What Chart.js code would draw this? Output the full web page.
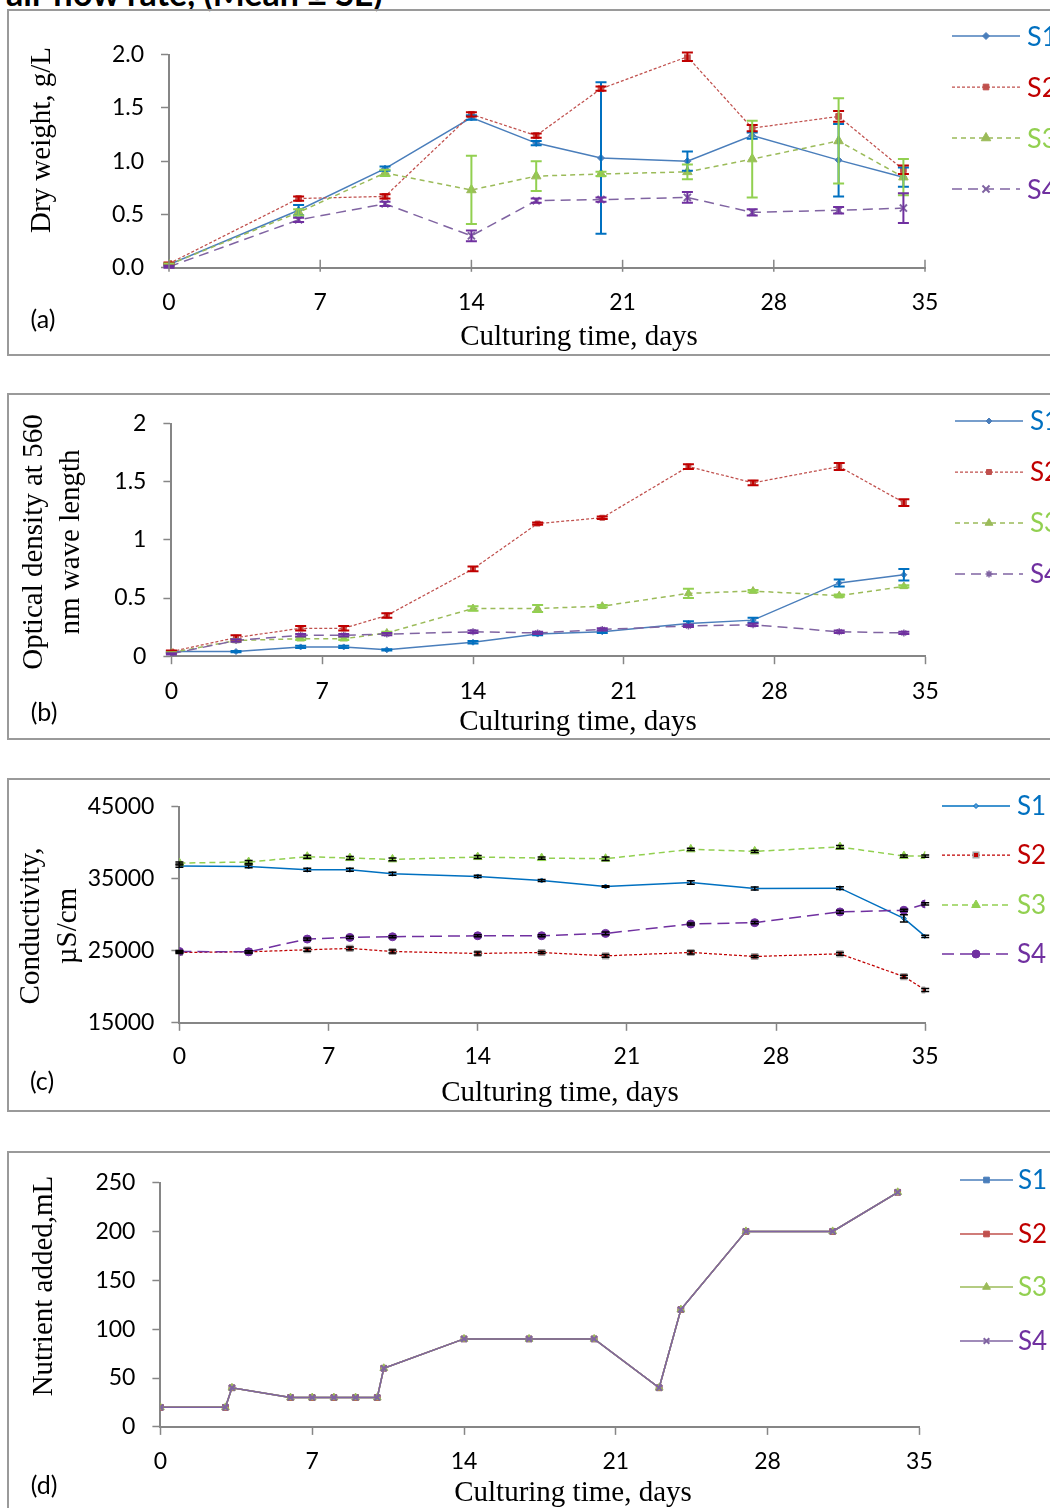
<!DOCTYPE html>
<html>
<head>
<meta charset="utf-8">
<title>Culture growth panels</title>
<script src="https://cdn.jsdelivr.net/npm/chart.js@4.4.0/dist/chart.umd.min.js"></script>
<style>
  html, body { margin: 0; padding: 0; background: #fff; }
  body { width: 1050px; height: 1508px; overflow: hidden; position: relative; }
  .panel { position: absolute; left: 7px; width: 1100px; border: 2px solid #9a9a9a; box-sizing: border-box; }
  canvas { position: absolute; left: 0; }
  .t { position: absolute; white-space: nowrap; transform: translate(-50%, -50%); }
  .serif { font-family: "Liberation Serif", serif; font-size: 29px; line-height: 1; color: #000; }
  .rot { transform: translate(-50%, -50%) rotate(-90deg); }
  .tag { font-family: Lato, sans-serif; font-size: 25px; line-height: 1.2; color: #000; }
  .head { position: absolute; left: 6px; top: -21px; font: bold 34px Lato, sans-serif; line-height: 27px; white-space: nowrap; color: #000; }
</style>
</head>
<body>
<div class="head">air flow rate, (Mean ± SE)</div>

<div class="panel" style="top:9px;height:347px"></div>
<div class="panel" style="top:393px;height:347px"></div>
<div class="panel" style="top:778px;height:334px"></div>
<div class="panel" style="top:1151px;height:400px"></div>

<canvas id="chartA" width="1050" height="356" style="top:0px;width:1050px;height:356px"></canvas>
<canvas id="chartB" width="1050" height="380" style="top:380px;width:1050px;height:380px"></canvas>
<canvas id="chartC" width="1050" height="350" style="top:770px;width:1050px;height:350px"></canvas>
<canvas id="chartD" width="1050" height="368" style="top:1140px;width:1050px;height:368px"></canvas>

<div class="t serif rot" style="left:40px;top:140px">Dry weight, g/L</div>
<div class="t serif" style="left:579px;top:335px">Culturing time, days</div>
<div class="t tag" style="left:43px;top:318px">(a)</div>

<div class="t serif rot" style="left:32px;top:542px">Optical density at 560</div>
<div class="t serif rot" style="left:69px;top:542px">nm wave length</div>
<div class="t serif" style="left:578px;top:720px">Culturing time, days</div>
<div class="t tag" style="left:44px;top:711px">(b)</div>

<div class="t serif rot" style="left:29px;top:926px">Conductivity,</div>
<div class="t serif rot" style="left:66px;top:926px">µS/cm</div>
<div class="t serif" style="left:560px;top:1091px">Culturing time, days</div>
<div class="t tag" style="left:42px;top:1080px">(c)</div>

<div class="t serif rot" style="left:42px;top:1286px">Nutrient added,mL</div>
<div class="t serif" style="left:573px;top:1491px">Culturing time, days</div>
<div class="t tag" style="left:44px;top:1484px">(d)</div>

<script>
// ---- (a) dry weight, g/L ----
const dwDays = [0, 6, 10, 14, 17, 20, 24, 27, 31, 34];
const dwS1 = [0.03, 0.54, 0.93, 1.41, 1.17, 1.03, 1.00, 1.24, 1.01, 0.85];
const dwS2 = [0.04, 0.65, 0.67, 1.44, 1.24, 1.68, 1.98, 1.31, 1.42, 0.92];
const dwS3 = [0.03, 0.52, 0.89, 0.73, 0.86, 0.88, 0.90, 1.02, 1.19, 0.85];
const dwS4 = [0.01, 0.45, 0.60, 0.30, 0.63, 0.64, 0.66, 0.52, 0.54, 0.56];
const dwS1Err = [0.01, 0.05, 0.02, 0.02, 0.02, 0.71, 0.09, 0.03, 0.34, 0.09];
const dwS2Err = [0.01, 0.02, 0.02, 0.02, 0.02, 0.02, 0.04, 0.03, 0.05, 0.04];
const dwS3Err = [0.01, 0.03, 0.03, 0.32, 0.14, 0.02, 0.07, 0.36, 0.40, 0.17];
const dwS4Err = [0.01, 0.02, 0.02, 0.05, 0.02, 0.02, 0.05, 0.03, 0.03, 0.14];

// ---- (b) optical density at 560 nm ----
const odDays = [0, 3, 6, 8, 10, 14, 17, 20, 24, 27, 31, 34];
const odS1 = [0.04, 0.04, 0.08, 0.08, 0.055, 0.12, 0.19, 0.21, 0.28, 0.31, 0.63, 0.70];
const odS2 = [0.04, 0.16, 0.24, 0.24, 0.35, 0.75, 1.14, 1.19, 1.63, 1.49, 1.63, 1.32];
const odS3 = [0.03, 0.135, 0.15, 0.15, 0.20, 0.41, 0.41, 0.43, 0.54, 0.56, 0.52, 0.60];
const odS4 = [0.02, 0.135, 0.18, 0.18, 0.19, 0.21, 0.20, 0.23, 0.26, 0.27, 0.21, 0.20];
const odS1Err = [0.005, 0.005, 0.01, 0.01, 0.005, 0.01, 0.01, 0.01, 0.02, 0.02, 0.03, 0.05];
const odS2Err = [0.01, 0.02, 0.02, 0.02, 0.02, 0.02, 0.01, 0.01, 0.02, 0.02, 0.03, 0.03];
const odS3Err = [0.005, 0.01, 0.01, 0.01, 0.01, 0.02, 0.03, 0.01, 0.04, 0.01, 0.01, 0.01];
const odS4Err = [0.005, 0.01, 0.01, 0.01, 0.01, 0.01, 0.01, 0.01, 0.01, 0.01, 0.01, 0.01];

// ---- (c) conductivity, uS/cm ----
const ecDays = [0, 3.25, 6, 8, 10, 14, 17, 20, 24, 27, 31, 34, 35];
const ecS1 = [36770, 36720, 36250, 36250, 35700, 35330, 34770, 33930, 34490, 33650, 33700, 29510, 27000];
const ecS2 = [24770, 24860, 25140, 25330, 24900, 24630, 24770, 24300, 24770, 24210, 24580, 21420, 19560];
const ecS3 = [37190, 37330, 38070, 37880, 37700, 38020, 37880, 37790, 39090, 38810, 39420, 38160, 38160];
const ecS4 = [24900, 24860, 26630, 26860, 26950, 27090, 27090, 27420, 28720, 28910, 30400, 30630, 31510];
const ecS1Err = [150, 200, 200, 200, 200, 150, 150, 100, 250, 200, 200, 500, 150];
const ecS2Err = [150, 150, 200, 200, 200, 200, 150, 200, 200, 150, 200, 200, 200];
const ecS3Err = [150, 200, 200, 200, 200, 200, 150, 250, 150, 150, 200, 150, 150];
const ecS4Err = [150, 150, 150, 150, 150, 150, 150, 200, 150, 150, 200, 150, 150];

// ---- (d) nutrient added, mL (same schedule for all four) ----
const ntDays = [0, 3, 3.3, 6, 7, 8, 9, 10, 10.3, 14, 17, 20, 23, 24, 27, 31, 34];
const ntAdded = [20, 20, 40, 30, 30, 30, 30, 30, 60, 90, 90, 90, 40, 120, 200, 200, 240];

const seriesNames = ['S1', 'S2', 'S3', 'S4'];
const legendColors = ['#0070C0', '#C00000', '#92D050', '#7030A0'];

const AXIS = '#868686';
Chart.defaults.font.family = 'Lato';
Chart.defaults.color = '#000';

// vertical error bars from each dataset's `errors`
const errorBars = {
  id: 'errorBars',
  afterDatasetsDraw(chart, args, o) {
    const { ctx, scales: { x, y } } = chart;
    chart.data.datasets.forEach(ds => {
      if (!ds.errors) return;
      ctx.save();
      ctx.strokeStyle = ds.errorColor || ds.borderColor;
      ctx.lineWidth = o.width || 1.5;
      ctx.setLineDash([]);
      const cap = o.cap || 5;
      ds.data.forEach((p, j) => {
        const e = ds.errors[j];
        if (!e) return;
        const px = x.getPixelForValue(p.x);
        const lo = y.getPixelForValue(p.y - e), hi = y.getPixelForValue(p.y + e);
        ctx.beginPath();
        ctx.moveTo(px, lo); ctx.lineTo(px, hi);
        ctx.moveTo(px - cap, lo); ctx.lineTo(px + cap, lo);
        ctx.moveTo(px - cap, hi); ctx.lineTo(px + cap, hi);
        ctx.stroke();
      });
      ctx.restore();
    });
  }
};

// legend on the right: line sample with marker, then coloured name
const sideLegend = {
  id: 'sideLegend',
  afterDraw(chart, args, o) {
    if (!o.ys) return;
    const ctx = chart.ctx;
    chart.data.datasets.forEach((ds, i) => {
      const y = o.ys[i];
      ctx.save();
      ctx.strokeStyle = ds.borderColor;
      ctx.lineWidth = ds.borderWidth;
      ctx.setLineDash(ds.borderDash || []);
      ctx.beginPath();
      ctx.moveTo(o.x0, y);
      ctx.lineTo(o.x1, y);
      ctx.stroke();
      ctx.setLineDash([]);
      ctx.fillStyle = ds.pointBackgroundColor;
      ctx.strokeStyle = ds.pointBorderColor;
      ctx.lineWidth = ds.pointBorderWidth;
      Chart.helpers.drawPoint(ctx, {
        pointStyle: ds.pointStyle, radius: ds.pointRadius,
        borderWidth: ds.pointBorderWidth, rotation: 0
      }, (o.x0 + o.x1) / 2, y);
      ctx.fillStyle = legendColors[i];
      ctx.font = o.font;
      ctx.textBaseline = 'middle';
      ctx.textAlign = 'left';
      ctx.fillText(ds.label, o.tx, y + 1);
      ctx.restore();
    });
  }
};

// tick marks pointing into the plot (panel a)
const innerTicks = {
  id: 'innerTicks',
  afterDraw(chart, args, o) {
    if (!o.len) return;
    const { ctx, scales: { x }, chartArea } = chart;
    ctx.save();
    ctx.strokeStyle = AXIS;
    ctx.lineWidth = 1.5;
    x.ticks.forEach(t => {
      const px = x.getPixelForValue(t.value);
      ctx.beginPath();
      ctx.moveTo(px, chartArea.bottom + 4);
      ctx.lineTo(px, chartArea.bottom - o.len);
      ctx.stroke();
    });
    ctx.restore();
  }
};

Chart.register(errorBars, sideLegend, innerTicks);

function series(i, days, vals, errs, st) {
  return Object.assign({
    label: seriesNames[i],
    data: days.map((d, k) => ({ x: d, y: vals[k] })),
    errors: errs,
    fill: false,
    tension: 0,
    order: 4 - i
  }, st);
}

function makeChart(id, c) {
  return new Chart(document.getElementById(id), {
    type: 'line',
    data: { datasets: c.datasets },
    options: {
      responsive: false,
      animation: false,
      devicePixelRatio: 1,
      events: [],
      layout: { padding: c.padding },
      plugins: {
        legend: { display: false },
        tooltip: { enabled: false },
        errorBars: c.err || {},
        sideLegend: c.legend,
        innerTicks: c.inner || {}
      },
      scales: {
        x: {
          type: 'linear', min: 0, max: 35,
          ticks: { stepSize: 7, font: { size: 23 }, color: '#000', padding: c.xPad, maxRotation: 0, autoSkip: false },
          grid: { drawOnChartArea: false, drawTicks: !c.inner, tickLength: 8, tickColor: AXIS, tickWidth: 1.5 },
          border: { color: AXIS, width: 2 },
          afterFit: s => { s.height = 50; s.paddingLeft = 0; s.paddingRight = 0; }
        },
        y: {
          min: c.yMin, max: c.yMax,
          ticks: { stepSize: c.yStep, font: { size: 23 }, color: '#000', padding: 17, callback: c.yFmt },
          grid: { drawOnChartArea: false, tickLength: 8, tickColor: AXIS, tickWidth: 1.5 },
          border: { color: AXIS, width: 2 },
          afterFit: s => { s.width = 100; s.paddingTop = 0; s.paddingBottom = 0; }
        }
      }
    }
  });
}

// (a)
makeChart('chartA', {
  padding: { left: 69, right: 125, top: 54.6, bottom: 38.2 },
  xPad: 21.4, inner: { len: 8 },
  yMin: 0, yMax: 2, yStep: 0.5, yFmt: v => v.toFixed(1),
  err: { width: 2, cap: 5.5 },
  legend: { ys: [36, 87, 138, 189], x0: 952, x1: 1020, tx: 1027, font: '27px Lato' },
  datasets: [
    series(0, dwDays, dwS1, dwS1Err, { borderColor: '#4A7EBB', borderWidth: 1.5, borderDash: [], pointStyle: 'rectRot', pointRadius: 3.5, pointBackgroundColor: '#4A7EBB', pointBorderColor: '#4A7EBB', pointBorderWidth: 1, errorColor: '#0070C0' }),
    series(1, dwDays, dwS2, dwS2Err, { borderColor: '#C0504D', borderWidth: 1.25, borderDash: [3, 2], pointStyle: 'rect', pointRadius: 4, pointBackgroundColor: '#C0504D', pointBorderColor: '#C0504D', pointBorderWidth: 1, errorColor: '#C00000' }),
    series(2, dwDays, dwS3, dwS3Err, { borderColor: '#9BBB59', borderWidth: 1.5, borderDash: [5, 4], pointStyle: 'triangle', pointRadius: 5.5, pointBackgroundColor: '#9BBB59', pointBorderColor: '#9BBB59', pointBorderWidth: 1, errorColor: '#92D050' }),
    series(3, dwDays, dwS4, dwS4Err, { borderColor: '#8064A2', borderWidth: 1.5, borderDash: [10, 6], pointStyle: 'crossRot', pointRadius: 5, pointBackgroundColor: '#8064A2', pointBorderColor: '#8064A2', pointBorderWidth: 2, errorColor: '#7030A0' })
  ]
});

// (b)
makeChart('chartB', {
  padding: { left: 71.4, right: 124.6, top: 43.5, bottom: 53.8 },
  xPad: 13.4,
  yMin: 0, yMax: 2, yStep: 0.5, yFmt: v => String(v),
  err: { width: 2, cap: 5.5 },
  legend: { ys: [41, 92, 143, 194], x0: 955, x1: 1023, tx: 1030, font: '26px Lato' },
  datasets: [
    series(0, odDays, odS1, odS1Err, { borderColor: '#4A7EBB', borderWidth: 1.5, borderDash: [], pointStyle: 'rectRot', pointRadius: 3, pointBackgroundColor: '#4A7EBB', pointBorderColor: '#4A7EBB', pointBorderWidth: 1, errorColor: '#0070C0' }),
    series(1, odDays, odS2, odS2Err, { borderColor: '#C0504D', borderWidth: 1.25, borderDash: [3, 2], pointStyle: 'rect', pointRadius: 3.5, pointBackgroundColor: '#C0504D', pointBorderColor: '#C0504D', pointBorderWidth: 1, errorColor: '#C00000' }),
    series(2, odDays, odS3, odS3Err, { borderColor: '#9BBB59', borderWidth: 1.5, borderDash: [5, 4], pointStyle: 'triangle', pointRadius: 4.5, pointBackgroundColor: '#9BBB59', pointBorderColor: '#9BBB59', pointBorderWidth: 1, errorColor: '#92D050' }),
    series(3, odDays, odS4, odS4Err, { borderColor: '#8064A2', borderWidth: 1.5, borderDash: [10, 6], pointStyle: 'star', pointRadius: 3.5, pointBackgroundColor: '#8064A2', pointBorderColor: '#8064A2', pointBorderWidth: 1.5, errorColor: '#7030A0' })
  ]
});

// (c)
makeChart('chartC', {
  padding: { left: 79.4, right: 124.8, top: 36.8, bottom: 47.2 },
  xPad: 12.4,
  yMin: 15000, yMax: 45000, yStep: 10000, yFmt: v => String(v),
  err: { width: 1.5, cap: 4 },
  legend: { ys: [36, 85, 135, 184], x0: 942, x1: 1010, tx: 1017, font: '26px Lato' },
  datasets: [
    series(0, ecDays, ecS1, ecS1Err, { borderColor: '#0070C0', borderWidth: 1.5, borderDash: [], pointStyle: 'rectRot', pointRadius: 2.5, pointBackgroundColor: '#5B9BD5', pointBorderColor: '#0070C0', pointBorderWidth: 1, errorColor: '#000' }),
    series(1, ecDays, ecS2, ecS2Err, { borderColor: '#C00000', borderWidth: 1.25, borderDash: [3, 2], pointStyle: 'rect', pointRadius: 4, pointBackgroundColor: '#C00000', pointBorderColor: '#A6A6A6', pointBorderWidth: 1.5, errorColor: '#000' }),
    series(2, ecDays, ecS3, ecS3Err, { borderColor: '#92D050', borderWidth: 1.5, borderDash: [6, 4], pointStyle: 'triangle', pointRadius: 5, pointBackgroundColor: '#92D050', pointBorderColor: '#92D050', pointBorderWidth: 1, errorColor: '#000' }),
    series(3, ecDays, ecS4, ecS4Err, { borderColor: '#7030A0', borderWidth: 1.5, borderDash: [12, 6], pointStyle: 'circle', pointRadius: 4, pointBackgroundColor: '#7030A0', pointBorderColor: '#7030A0', pointBorderWidth: 1, errorColor: '#000' })
  ]
});

// (d)
makeChart('chartD', {
  padding: { left: 60.4, right: 130.6, top: 42.5, bottom: 31.1 },
  xPad: 12.4,
  yMin: 0, yMax: 250, yStep: 50, yFmt: v => String(v),
  legend: { ys: [40, 94, 147, 201], x0: 960, x1: 1013, tx: 1018, font: '26px Lato' },
  datasets: [
    series(0, ntDays, ntAdded, null, { borderColor: '#4A7EBB', borderWidth: 1.5, borderDash: [], pointStyle: 'rect', pointRadius: 4, pointBackgroundColor: '#4A7EBB', pointBorderColor: '#4A7EBB', pointBorderWidth: 1 }),
    series(1, ntDays, ntAdded, null, { borderColor: '#C0504D', borderWidth: 1.5, borderDash: [], pointStyle: 'rect', pointRadius: 4, pointBackgroundColor: '#C0504D', pointBorderColor: '#C0504D', pointBorderWidth: 1 }),
    series(2, ntDays, ntAdded, null, { borderColor: '#9BBB59', borderWidth: 1.5, borderDash: [], pointStyle: 'triangle', pointRadius: 4.5, pointBackgroundColor: '#9BBB59', pointBorderColor: '#9BBB59', pointBorderWidth: 1 }),
    series(3, ntDays, ntAdded, null, { borderColor: '#8064A2', borderWidth: 1.5, borderDash: [], pointStyle: 'crossRot', pointRadius: 4, pointBackgroundColor: '#8064A2', pointBorderColor: '#8064A2', pointBorderWidth: 2 })
  ]
});
</script>
</body>
</html>
